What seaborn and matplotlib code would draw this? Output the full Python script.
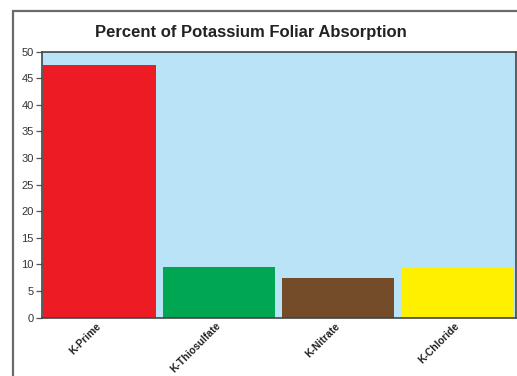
import matplotlib
matplotlib.use("Agg")
import matplotlib.pyplot as plt
import seaborn as sns
import pandas as pd
from matplotlib.patches import Rectangle

categories = ["K-Prime", "K-Thiosulfate", "K-Nitrate", "K-Chloride"]
values = [47.5, 9.5, 7.4, 9.5]
colors = ["#ed1c24", "#00a651", "#754c29", "#fff000"]
title = "Percent of Potassium Foliar Absorption"
yticks = [0, 5, 10, 15, 20, 25, 30, 35, 40, 45, 50]

sns.set_theme(style="white")
plt.rcParams["font.family"] = ["Liberation Sans", "DejaVu Sans"]

df = pd.DataFrame({"cat": categories, "val": values})

fig = plt.figure(figsize=(5.17, 3.76), dpi=100)
fig.patch.set_facecolor("white")
ax = fig.add_axes([42 / 517, 1 - 317.5 / 376, (515.5 - 42) / 517, (317.5 - 51.7) / 376])

sns.barplot(data=df, x="cat", y="val", hue="cat", palette=colors, legend=False,
            width=0.94, saturation=1, ax=ax, linewidth=0)

ax.set_facecolor("#b9e4f8")
ax.set_xlim(-0.482, 3.486)
ax.set_ylim(0, 50)
ax.set_yticks(yticks)
ax.set_yticklabels([str(t) for t in yticks])
ax.set_xlabel("")
ax.set_ylabel("")

for s in ax.spines.values():
    s.set_color("#444444")
    s.set_linewidth(1.2)

ax.tick_params(axis="y", length=4, width=0.9, color="#555555", pad=2,
               labelsize=8, labelcolor="#333333", left=True)
ax.tick_params(axis="x", length=0, pad=5, labelsize=7.5, labelcolor="#222222")
for lbl in ax.get_xticklabels():
    lbl.set_rotation(45)
    lbl.set_ha("right")
    lbl.set_va("center")
    lbl.set_rotation_mode("anchor")
    lbl.set_fontweight("bold")

fig.text(251 / 517, 1 - 32 / 376, title, ha="center", va="center",
         fontsize=12, fontweight="bold", color="#222222")

# outer frame
fig.patches.append(Rectangle((13 / 517, -0.2), 2.0, 1.2 - 10.5 / 376,
                             transform=fig.transFigure, fill=False,
                             edgecolor="#6a6a6a", linewidth=1.6, clip_on=False))

fig.savefig("out.png", dpi=100, facecolor="white")
